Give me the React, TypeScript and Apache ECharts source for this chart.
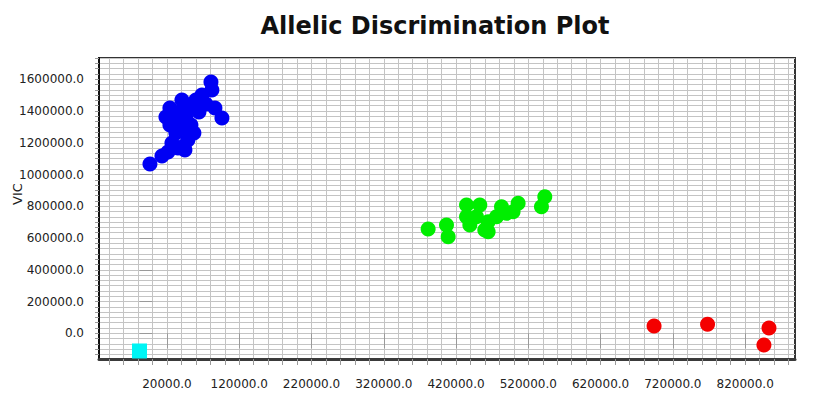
import React, { useEffect, useRef } from 'react';
import * as echarts from 'echarts';

// ---- data (X = allele 1 signal, Y = VIC) ----
const blueCluster: [number, number][] = [
  [-3500, 1066400], [13100, 1116800], [21400, 1142000], [26900, 1198700],
  [35200, 1167200], [43500, 1179800], [49000, 1217600], [32400, 1261700],
  [42100, 1293200], [24100, 1419200], [18600, 1362500], [31100, 1356200],
  [38000, 1394000], [46300, 1356200], [53200, 1312100], [57300, 1261700],
  [51800, 1419200], [60100, 1469600], [68400, 1501100], [64300, 1394000],
  [73900, 1444400], [80900, 1583000], [82200, 1532600], [86400, 1419200],
  [96100, 1356200], [24100, 1312100], [44900, 1154600], [40700, 1469600],
];
const greenCluster: [number, number][] = [
  [381400, 657000], [406800, 682200], [409100, 608500], [434500, 808200],
  [452900, 808200], [482900, 797500], [505900, 818900], [498900, 766000],
  [542800, 860500], [538200, 797500], [434500, 734500], [439100, 682200],
  [459800, 650700], [464400, 703000], [476000, 734500], [448300, 734500],
  [489800, 755900], [464400, 640000],
];
const redCluster: [number, number][] = [
  [694000, 46000], [768000, 56700], [853000, 33400], [846000, -73700],
];
const noTemplate: [number, number][] = [[-18000, -111500]];

const xTickLabels = [20000, 120000, 220000, 320000, 420000, 520000, 620000, 720000, 820000];
const yTickLabels = [0, 200000, 400000, 600000, 800000, 1000000, 1200000, 1400000, 1600000];

const X_MIN = -74000;
const X_MAX = 889000;
const Y_MIN = -162000;
const Y_MAX = 1734000;
const X_MINOR_STEP = 20000;
const Y_MINOR_STEP = 200000 / 6;

function minorValues(min: number, max: number, anchor: number, step: number): number[] {
  const out: number[] = [];
  const start = anchor + Math.ceil((min - anchor) / step) * step;
  for (let v = start; v <= max + 1e-6; v += step) out.push(v);
  return out;
}

const FONT = 'DejaVu Sans';

export default function App() {
  const ref = useRef<HTMLDivElement>(null);
  useEffect(() => {
    if (!ref.current) return;
    const chart = echarts.init(ref.current, null, { renderer: 'svg' });
    const xMinor = minorValues(X_MIN, X_MAX, 20000, X_MINOR_STEP);
    const yMinor = minorValues(Y_MIN, Y_MAX, 0, Y_MINOR_STEP);
    const fmt = (v: number) => Number(v).toFixed(1);
    const labelStyle = { fontFamily: FONT, fontSize: 12, color: '#222' };
    chart.setOption({
      animation: false,
      backgroundColor: '#ffffff',
      title: {
        text: 'Allelic Discrimination Plot',
        left: 430,
        top: 9,
        textAlign: 'center',
        textStyle: { fontFamily: FONT, fontWeight: 'bold', fontSize: 24, color: '#111' },
      },
      grid: {
        left: 99, top: 58, right: 23, bottom: 48,
        show: true, borderColor: '#333', borderWidth: 2, backgroundColor: '#fff',
      },
      xAxis: [
        {
          type: 'value', min: X_MIN, max: X_MAX, position: 'bottom',
          axisLine: { show: true, onZero: false, lineStyle: { color: '#3a3a3a', width: 3 } },
          axisTick: { show: true, customValues: xMinor, length: 6, lineStyle: { color: '#9a9a9a', width: 1 } },
          splitLine: { show: true, lineStyle: { color: '#c4c4c4', width: 1 } },
          axisLabel: { customValues: xTickLabels, formatter: fmt, margin: 19, ...labelStyle },
        },
        {
          type: 'value', min: X_MIN, max: X_MAX, position: 'bottom',
          axisLine: { show: false },
          axisTick: { show: true, customValues: xTickLabels, length: 15, lineStyle: { color: '#9a9a9a', width: 1 } },
          splitLine: { show: false },
          axisLabel: { show: false },
        },
      ],
      yAxis: [
        {
          type: 'value', min: Y_MIN, max: Y_MAX, position: 'left',
          axisLine: { show: true, onZero: false, lineStyle: { color: '#111', width: 2 } },
          axisTick: { show: true, customValues: yMinor, length: 4, lineStyle: { color: '#9a9a9a', width: 1 } },
          splitLine: { show: true, lineStyle: { color: '#c4c4c4', width: 1 } },
          axisLabel: { customValues: yTickLabels, formatter: fmt, margin: 15, ...labelStyle },
        },
        {
          type: 'value', min: Y_MIN, max: Y_MAX, position: 'left',
          axisLine: { show: false },
          axisTick: { show: true, customValues: yTickLabels, length: 13, lineStyle: { color: '#9a9a9a', width: 1 } },
          splitLine: { show: false },
          axisLabel: { show: false },
        },
      ],
      graphic: [
        {
          type: 'text', x: 17, y: 194, rotation: Math.PI / 2,
          style: { text: 'VIC', fontFamily: FONT, fontSize: 13, fill: '#222', align: 'center', verticalAlign: 'middle' },
        },
      ],
      series: [
        { type: 'scatter', name: 'Allele 2', data: blueCluster, symbol: 'circle', symbolSize: 15, itemStyle: { color: '#0000f4', opacity: 1 } },
        { type: 'scatter', name: 'Both', data: greenCluster, symbol: 'circle', symbolSize: 15, itemStyle: { color: '#00ee00', opacity: 1 } },
        { type: 'scatter', name: 'Allele 1', data: redCluster, symbol: 'circle', symbolSize: 15, itemStyle: { color: '#f40000', opacity: 1 } },
        { type: 'scatter', name: 'NTC', data: noTemplate, symbol: 'rect', symbolSize: 15, itemStyle: { color: '#00f4f4', opacity: 1 } },
      ],
    });
    return () => chart.dispose();
  }, []);
  return (
    <div
      ref={ref}
      style={{ position: 'fixed', left: 0, top: 0, width: 818, height: 407, background: '#fff' }}
    />
  );
}
